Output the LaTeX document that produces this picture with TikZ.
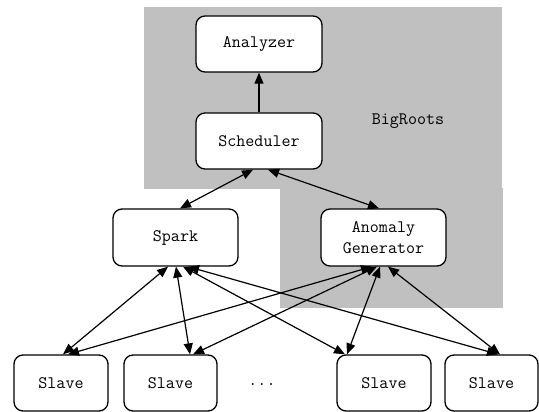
\documentclass[tikz,border=0pt]{standalone}
\usetikzlibrary{arrows.meta}
\definecolor{bggray}{RGB}{192,192,192}
\begin{document}
\begin{tikzpicture}[x=1pt,y=-1pt,
  box/.style={draw=black,line width=1.3pt,rounded corners=9pt,fill=white,
    font=\fontsize{17.5}{21}\ttfamily,align=center,inner sep=0pt},
  dbl/.style={line width=1.2pt,{Triangle[length=11pt,width=9pt]}-{Triangle[length=11pt,width=9pt]}},
  sgl/.style={line width=1.2pt,-{Triangle[length=11pt,width=9pt]}},
  lbl/.style={font=\fontsize{17.5}{21}\ttfamily,inner sep=0pt}]
\useasboundingbox (0,0) rectangle (539,412);
\fill[white] (0,0) rectangle (539,412);
\fill[bggray] (144,7) rectangle (502,189);
\fill[bggray] (280,188) rectangle (503,308);

\node[box,minimum width=126pt,minimum height=56pt] (an) at (259,44) {Analyzer};
\node[box,minimum width=126pt,minimum height=56pt] (sc) at (259,141) {Scheduler};
\node[box,minimum width=125pt,minimum height=57pt] (sp) at (175.5,237.5) {Spark};
\node[box,minimum width=125pt,minimum height=57pt] (ag) at (383.5,237.5) {Anomaly\\Generator};
\node[box,minimum width=94pt,minimum height=56pt] (s1) at (61,383) {Slave};
\node[box,minimum width=93pt,minimum height=56pt] (s2) at (170.5,383) {Slave};
\node[box,minimum width=94pt,minimum height=56pt] (s3) at (384,383) {Slave};
\node[box,minimum width=93pt,minimum height=56pt] (s4) at (491.5,383) {Slave};
\node[lbl] (dots) at (262,385) {...};
\node[lbl] (br) at (408,121) {BigRoots};

\draw[sgl] (sc.north) -- (an.south);
\draw[dbl] ([xshift=-6pt]sc.south) -- ([xshift=4.5pt]sp.north);
\draw[dbl] ([xshift=9pt]sc.south) -- ([xshift=-4.5pt]ag.north);

\draw[dbl] ([xshift=-7.5pt]sp.south) -- ([xshift=2pt]s1.north);
\draw[dbl] ([xshift=0.5pt]sp.south) -- ([xshift=19.5pt]s2.north);
\draw[dbl] ([xshift=7.5pt]sp.south) -- ([xshift=-39pt]s3.north);
\draw[dbl] ([xshift=12.5pt]sp.south) -- ([xshift=6.5pt]s4.north);

\draw[dbl] ([xshift=-11.5pt]ag.south) -- ([xshift=7pt]s1.north);
\draw[dbl] ([xshift=-6.5pt]ag.south) -- ([xshift=22.5pt]s2.north);
\draw[dbl] ([xshift=-3.5pt]ag.south) -- ([xshift=-37pt]s3.north);
\draw[dbl] ([xshift=4.5pt]ag.south) -- ([xshift=8.5pt]s4.north);
\end{tikzpicture}
\end{document}
